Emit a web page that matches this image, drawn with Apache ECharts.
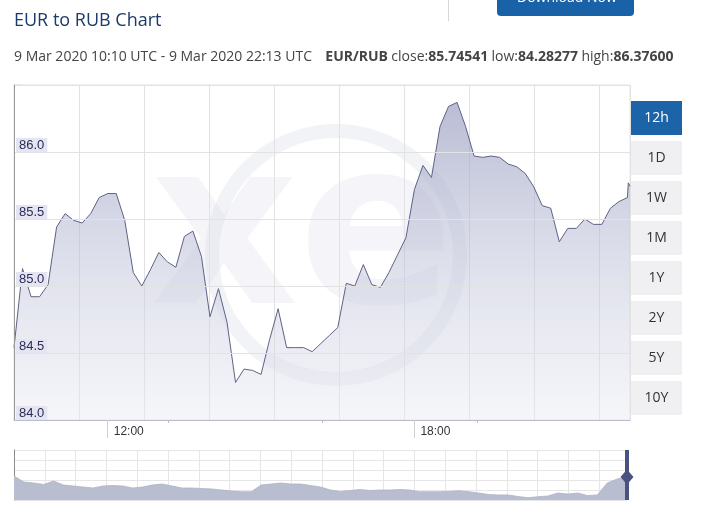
<!DOCTYPE html>
<html>
<head>
<meta charset="utf-8">
<script src="https://cdn.jsdelivr.net/npm/echarts@6/dist/echarts.min.js"></script>
<style>
html,body{margin:0;padding:0;background:#fff;}
#chart{width:701px;height:515px;}
</style>
</head>
<body>
<div id="chart"></div>
<script>
// ---- data ----
var times = ["10:10","10:20","10:30","10:40","10:50","11:00","11:10","11:20","11:30","11:40","11:50",
"12:00","12:10","12:20","12:30","12:40","12:50","13:00","13:10","13:20","13:30","13:40","13:50",
"14:00","14:10","14:20","14:30","14:40","14:50","15:00","15:10","15:20","15:30","15:40","15:50",
"16:00","16:10","16:20","16:30","16:40","16:50","17:00","17:10","17:20","17:30","17:40","17:50",
"18:00","18:10","18:20","18:30","18:40","18:50","19:00","19:10","19:20","19:30","19:40","19:50",
"20:00","20:10","20:20","20:30","20:40","20:50","21:00","21:10","21:20","21:30","21:40","21:50",
"22:00","22:10","22:11","22:13"];
var rates = [84.54,85.13,84.92,84.92,85.01,85.44,85.54,85.49,85.47,85.54,85.66,
85.69,85.69,85.49,85.10,85.00,85.12,85.25,85.18,85.14,85.37,85.41,85.22,
84.77,84.98,84.73,84.28,84.38,84.37,84.34,84.60,84.83,84.54,84.54,84.54,
84.51,84.57,84.63,84.69,85.02,85.00,85.16,85.01,84.99,85.10,85.23,85.36,
85.72,85.90,85.81,86.19,86.34,86.37,86.19,85.97,85.96,85.97,85.96,85.91,
85.89,85.84,85.74,85.60,85.58,85.33,85.43,85.43,85.50,85.46,85.46,85.58,
85.63,85.66,85.77,85.745];
var xLabelHours = [12, 18];
var xMinorTickHours = [13.18, 16.19, 19.22];
var rangeButtons = ["12h","1D","1W","1M","1Y","2Y","5Y","10Y"];
// navigator (long-range overview), relative heights
var navHeights = [23.3,17.3,16.3,14.8,18.3,14.3,13.3,12.3,11.3,13.3,13.8,13.3,11.3,12.3,14.3,15.3,
13.3,11.3,11.3,10.8,10.3,9.3,8.3,7.6,7.6,14.3,15.3,16.3,15.3,15.3,13.8,12.3,9.3,7.8,8.8,9.8,
8.8,9.3,9.3,9.8,9.3,7.6,7.6,7.6,7.8,8.6,7.6,6.3,4.8,4.3,4.3,2.8,1.6,2.6,3.3,6.3,5.3,6.3,3.8,4.3,
16.3,20.3,22.3];

// ---- build ----
function toHour(t){var p=t.split(':');return +p[0]+(+p[1])/60;}
var mainData = times.map(function(t,i){return [toHour(t), rates[i]];});
var navData = navHeights.map(function(v,i){return [i, v+0.7];});
var xMin = toHour(times[0]), xMax = toHour(times[times.length-1]);

var chart = echarts.init(document.getElementById('chart'));
var fontA = '"Liberation Sans", Arial, sans-serif';
var fontO = '"Open Sans", "Noto Sans", sans-serif';

var graphics = [
  // watermark
  {type:'circle', z:0, silent:true, shape:{cx:336, cy:255, r:124}, style:{fill:'none', stroke:'rgba(208,211,228,0.28)', lineWidth:14}},
  {type:'text', z:0, silent:true, left:150, top:128, style:{text:'xe', font:'bold 230px "DejaVu Sans", sans-serif', fill:'rgba(208,211,228,0.22)'}},
  // header
  {type:'text', left:14, top:12, style:{text:'EUR to RUB Chart', font:'18px '+fontO, fill:'#1c3a6b'}},
  {type:'line', shape:{x1:448.5,y1:0,x2:448.5,y2:21}, style:{stroke:'#d6d6d6', lineWidth:1}},
  {type:'rect', shape:{x:497,y:-12,width:137,height:28,r:4}, style:{fill:'#1a62a8'}},
  {type:'text', left:517, top:-9, style:{text:'Download Now', font:'14px '+fontO, fill:'#ffffff'}},
  {type:'text', left:14, top:50, style:{
    text:'{n|9 Mar 2020 10:10 UTC - 9 Mar 2020 22:13 UTC}    {b|EUR/RUB} {n|close:}{b|85.74541} {n|low:}{b|84.28277} {n|high:}{b|86.37600}',
    rich:{n:{font:'14px '+fontO, fill:'#444'}, b:{font:'bold 14px '+fontO, fill:'#444'}}
  }}
];
rangeButtons.forEach(function(b,i){
  var sel = i===0;
  graphics.push({type:'rect', shape:{x:631, y:101+i*40, width:51, height:34}, style:{fill: sel?'#1d63a7':'#f0f0f3'}});
  graphics.push({type:'text', x:656.5, y:118+i*40, style:{text:b, font:'14px '+fontO, fill: sel?'#ffffff':'#333333', align:'center', verticalAlign:'middle'}});
});

var option = {
  animation:false,
  backgroundColor:'#ffffff',
  graphic: graphics,
  grid:[
    {left:14, top:85, width:616, height:335, show:true, borderColor:'#e4e4e4', borderWidth:1, backgroundColor:'transparent'},
    {left:14, top:450, width:613, height:50, show:false}
  ],
  xAxis:[
    {type:'value', gridIndex:0, min:xMin, max:xMax, z:10,
     axisLine:{show:true, lineStyle:{color:'#b9bccb'}},
     splitLine:{show:false},
     axisTick:{show:true, customValues:xLabelHours, length:18, lineStyle:{color:'#d0d0d0'}},
     axisLabel:{show:true, customValues:xLabelHours, margin:6, align:'left', padding:[0,0,0,6],
       fontFamily:fontA, fontSize:12, color:'#333',
       formatter:function(v){return (v<10?'0':'')+Math.round(v)+':00';}}
    },
    {type:'value', gridIndex:0, min:0, max:616/65, interval:1,
     axisLine:{show:false}, axisTick:{show:false}, axisLabel:{show:false},
     splitLine:{show:true, lineStyle:{color:'#e2e2e2'}}},
    {type:'value', gridIndex:0, min:xMin, max:xMax, position:'bottom',
     axisLine:{show:false}, axisLabel:{show:false}, splitLine:{show:false},
     axisTick:{show:true, customValues:xMinorTickHours, length:3, lineStyle:{color:'#b9bccb'}}},
    {type:'value', gridIndex:1, min:0, max:navHeights.length-1,
     axisLine:{show:false}, axisTick:{show:false}, axisLabel:{show:false}, splitLine:{show:false}},
    {type:'value', gridIndex:1, min:0, max:613/30.8, interval:1,
     axisLine:{show:false}, axisTick:{show:false}, axisLabel:{show:false},
     splitLine:{show:true, lineStyle:{color:'#e6e6e6'}}}
  ],
  yAxis:[
    {type:'value', gridIndex:0, min:84, max:86.5, interval:0.5, z:10,
     axisLine:{show:true, lineStyle:{color:'#9a9a9a'}},
     axisTick:{show:false},
     splitLine:{show:true, lineStyle:{color:'#e2e2e2'}},
     axisLabel:{inside:true, margin:2, showMinLabel:true, showMaxLabel:true, verticalAlign:'bottom',
       backgroundColor:'#e4e5f0', padding:[1,3,0,3], fontFamily:fontA, fontSize:13, color:'#2a2c5a',
       formatter:function(v){return v >= 86.5 ? '' : v.toFixed(1);}}
    },
    {type:'value', gridIndex:1, min:0, max:50, interval:10,
     axisLine:{show:true, lineStyle:{color:'#8a8a8a'}}, axisTick:{show:false}, axisLabel:{show:false},
     splitLine:{show:true, lineStyle:{color:'#e6e6e6'}}}
  ],
  series:[
    {type:'line', xAxisIndex:0, yAxisIndex:0, data:mainData, showSymbol:false, z:3,
     lineStyle:{color:'#5e6286', width:1},
     areaStyle:{color:new echarts.graphic.LinearGradient(0,0,0,1,[
       {offset:0, color:'rgba(150,155,190,0.95)'},
       {offset:0.45, color:'rgba(185,189,213,0.75)'},
       {offset:1, color:'rgba(232,233,242,0.6)'}]), origin:'start'}
    },
    {type:'line', xAxisIndex:3, yAxisIndex:1, data:navData, showSymbol:false, z:3,
     lineStyle:{color:'#aeb2c7', width:0.8},
     areaStyle:{color:'#b9bdd0', opacity:1, origin:'start'},
     markLine:{silent:true, symbol:['none','none'], label:{show:false},
       lineStyle:{color:'#4a5282', width:4, type:'solid'},
       data:[{xAxis:navHeights.length-1}]},
     markPoint:{silent:true, symbol:'diamond', symbolSize:[13,15], label:{show:false},
       itemStyle:{color:'#4a5282'},
       data:[{coord:[navHeights.length-1, 23]}]}
    }
  ]
};
chart.setOption(option);
</script>
</body>
</html>
